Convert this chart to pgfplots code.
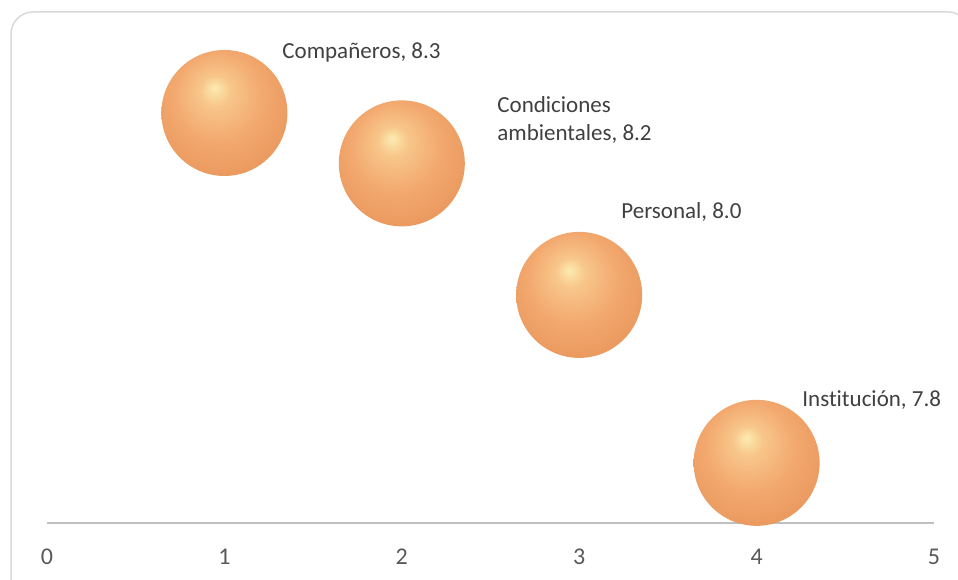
\documentclass[border=0pt]{standalone}
\usepackage{pgfplots}
\pgfplotsset{compat=1.18}
\usepackage{fontspec}
\setmainfont{Carlito}[Ligatures=NoCommon]
\definecolor{hl}{HTML}{FCEBB0}
\definecolor{hl2}{HTML}{F8C68A}
\definecolor{body}{HTML}{F2A86E}
\definecolor{body2}{HTML}{E8955A}
\definecolor{edge}{HTML}{C27E4E}
\definecolor{edge2}{HTML}{7E5434}
\definecolor{axisgray}{HTML}{BFBFBF}
\definecolor{bordergray}{HTML}{D9D9D9}
\definecolor{tickgray}{HTML}{595959}
\definecolor{labelgray}{HTML}{404040}
\pgfdeclareradialshading{excelball}{\pgfpoint{-4bp}{10bp}}{%
  color(0bp)=(hl); color(6bp)=(hl2); color(18bp)=(body); color(33bp)=(body2);
  color(43bp)=(edge); color(50bp)=(edge2)}
\pgfdeclareplotmark{exball}{%
  \pgfpathcircle{\pgfpointorigin}{\pgfplotmarksize}%
  \pgfshadepath{excelball}{0}%
  \pgfusepath{}}
\begin{document}
\begin{tikzpicture}
\useasboundingbox (0,0) rectangle (479pt,289.5pt);
\draw[bordergray, line width=0.75pt, rounded corners=11pt] (5.5pt,-12pt) rectangle (485pt,283.5pt);
\begin{axis}[
  at={(23.5pt,28pt)}, anchor=south west,
  scale only axis, width=443.5pt, height=246.5pt,
  xmin=0, xmax=5, ymin=7.714, ymax=8.4186,
  axis x line*=bottom, axis y line=none,
  axis line style={axisgray, line width=0.75pt, -},
  xtick={0,1,2,3,4,5}, major tick length=0pt,
  xticklabel style={font=\fontsize{12pt}{14pt}\selectfont, text=tickgray, anchor=base, yshift=-20.5pt},
  /pgf/number format/assume math mode=true,
  clip=false,
]
\addplot[only marks, mark=exball, mark size=31.5pt] coordinates {
  (1,8.300) (2,8.228) (3,8.040) (4,7.800)
};
\begin{scope}[every node/.style={font=\fontsize{11.5pt}{14pt}\selectfont, text=labelgray, anchor=base west, inner sep=0pt}]
\node at (axis cs:1.3247,8.3783) {Compañeros, 8.3};
\node at (axis cs:2.5366,8.3011) {Condiciones};
\node at (axis cs:2.5366,8.2611) {ambientales, 8.2};
\node at (axis cs:3.2356,8.1497) {Personal, 8.0};
\node at (axis cs:4.2559,7.8811) {Institución, 7.8};
\end{scope}
\end{axis}
\end{tikzpicture}
\end{document}
